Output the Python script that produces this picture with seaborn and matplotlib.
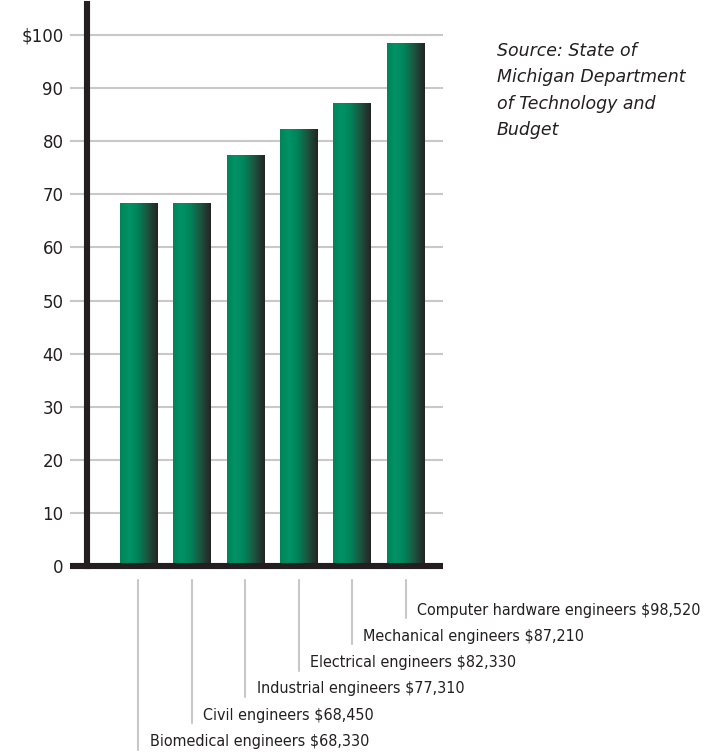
import numpy as np
import pandas as pd
import matplotlib
matplotlib.use("Agg")
import matplotlib.pyplot as plt
from matplotlib.colors import LinearSegmentedColormap
from matplotlib.lines import Line2D
import matplotlib.transforms as mtransforms
import seaborn as sns

# Median annual wages of engineering occupations
occupations = [
    "Biomedical engineers",
    "Civil engineers",
    "Industrial engineers",
    "Electrical engineers",
    "Mechanical engineers",
    "Computer hardware engineers",
]
wages = [68330, 68450, 77310, 82330, 87210, 98520]
ytick_values = [0, 10, 20, 30, 40, 50, 60, 70, 80, 90, 100]
ytick_labels = ["0", "10", "20", "30", "40", "50", "60", "70", "80", "90", "$100"]
source_note = "Source: State of\nMichigan Department\nof Technology and\nBudget"

df = pd.DataFrame({"occupation": occupations, "wage_k": [w / 1000 for w in wages]})

sns.set_theme(style="white")
plt.rcParams["font.family"] = ["DejaVu Sans"]

INK = "#231f20"
GRID = "#c8c8c8"

W, H = 709, 756
fig = plt.figure(figsize=(W / 100, H / 100), dpi=100)
fig.patch.set_facecolor("white")

# axes box in pixels: left 87, right 443, bottom 566, top 4
ax_l, ax_r, ax_b, ax_t = 87, 443, 566, 4
ax = fig.add_axes([ax_l / W, 1 - ax_b / H, (ax_r - ax_l) / W, (ax_b - ax_t) / H])
ax.set_facecolor("white")

sns.barplot(data=df, x="occupation", y="wage_k", width=0.7, color="#00885c",
            ax=ax, zorder=3, linewidth=0)

# horizontal cylinder-like gradient on each bar
bar_cmap = LinearSegmentedColormap.from_list(
    "bar", [(0.0, "#00845a"), (0.22, "#009265"), (0.45, "#00855b"),
            (0.72, "#1c5540"), (1.0, "#232323")])
grad = np.linspace(0, 1, 256).reshape(1, -1)
for p in list(ax.patches):
    x0, y0 = p.get_x(), p.get_y()
    w, h = p.get_width(), p.get_height()
    im = ax.imshow(grad, extent=[x0, x0 + w, y0, y0 + h], aspect="auto",
                   cmap=bar_cmap, zorder=3, interpolation="bicubic")
    im.set_clip_path(p)
    p.set_facecolor("none")

ymax = (ax_b - ax_t) / 5.31
ax.set_ylim(0, ymax)
ax.set_xlim(-0.964, 5.70)

ax.set_yticks(ytick_values)
ax.set_yticklabels(ytick_labels)
ax.set_xticks([])
ax.set_xlabel("")
ax.set_ylabel("")
ax.yaxis.grid(True, color=GRID, linewidth=1.5, zorder=0)
ax.xaxis.grid(False)
ax.tick_params(axis="y", which="major", direction="out", length=12, width=1.5,
               color=GRID, pad=5, labelsize=12, labelcolor=INK, left=True)

for side in ["top", "right", "bottom"]:
    ax.spines[side].set_visible(False)
ax.spines["left"].set_linewidth(4.4)
ax.spines["left"].set_color(INK)
ax.spines["left"].set_zorder(6)

# thick baseline reaching a little past the left spine
ax.add_line(Line2D([-(ax_l - 70) / (ax_r - ax_l), 1.0], [0, 0], transform=ax.transAxes,
                   color=INK, linewidth=4.4, clip_on=False, zorder=5,
                   solid_capstyle="butt"))

# staircase of leader lines and labels under the bars
blend = mtransforms.blended_transform_factory(ax.transData, ax.transAxes)
ax_h = ax_b - ax_t
def yfrac(px):
    return (ax_b - px) / ax_h

n = len(occupations)
for i, (name, wage) in enumerate(zip(occupations, wages)):
    center_px = 610 + 26.3 * (n - 1 - i)
    ax.add_line(Line2D([i, i], [yfrac(580), yfrac(center_px + 8)], transform=blend,
                       color=GRID, linewidth=1.5, clip_on=False))
    ax.text(i + 0.21, yfrac(center_px), f"{name} ${wage:,}", transform=blend,
            ha="left", va="center", fontsize=11.5, color=INK,
            family="DejaVu Sans", fontstretch="condensed", clip_on=False)

fig.text(497 / W, 1 - 42 / H, source_note, ha="left", va="top", fontsize=12.5,
         style="italic", color=INK, linespacing=1.6)

fig.savefig("out.png", dpi=100, facecolor="white")
